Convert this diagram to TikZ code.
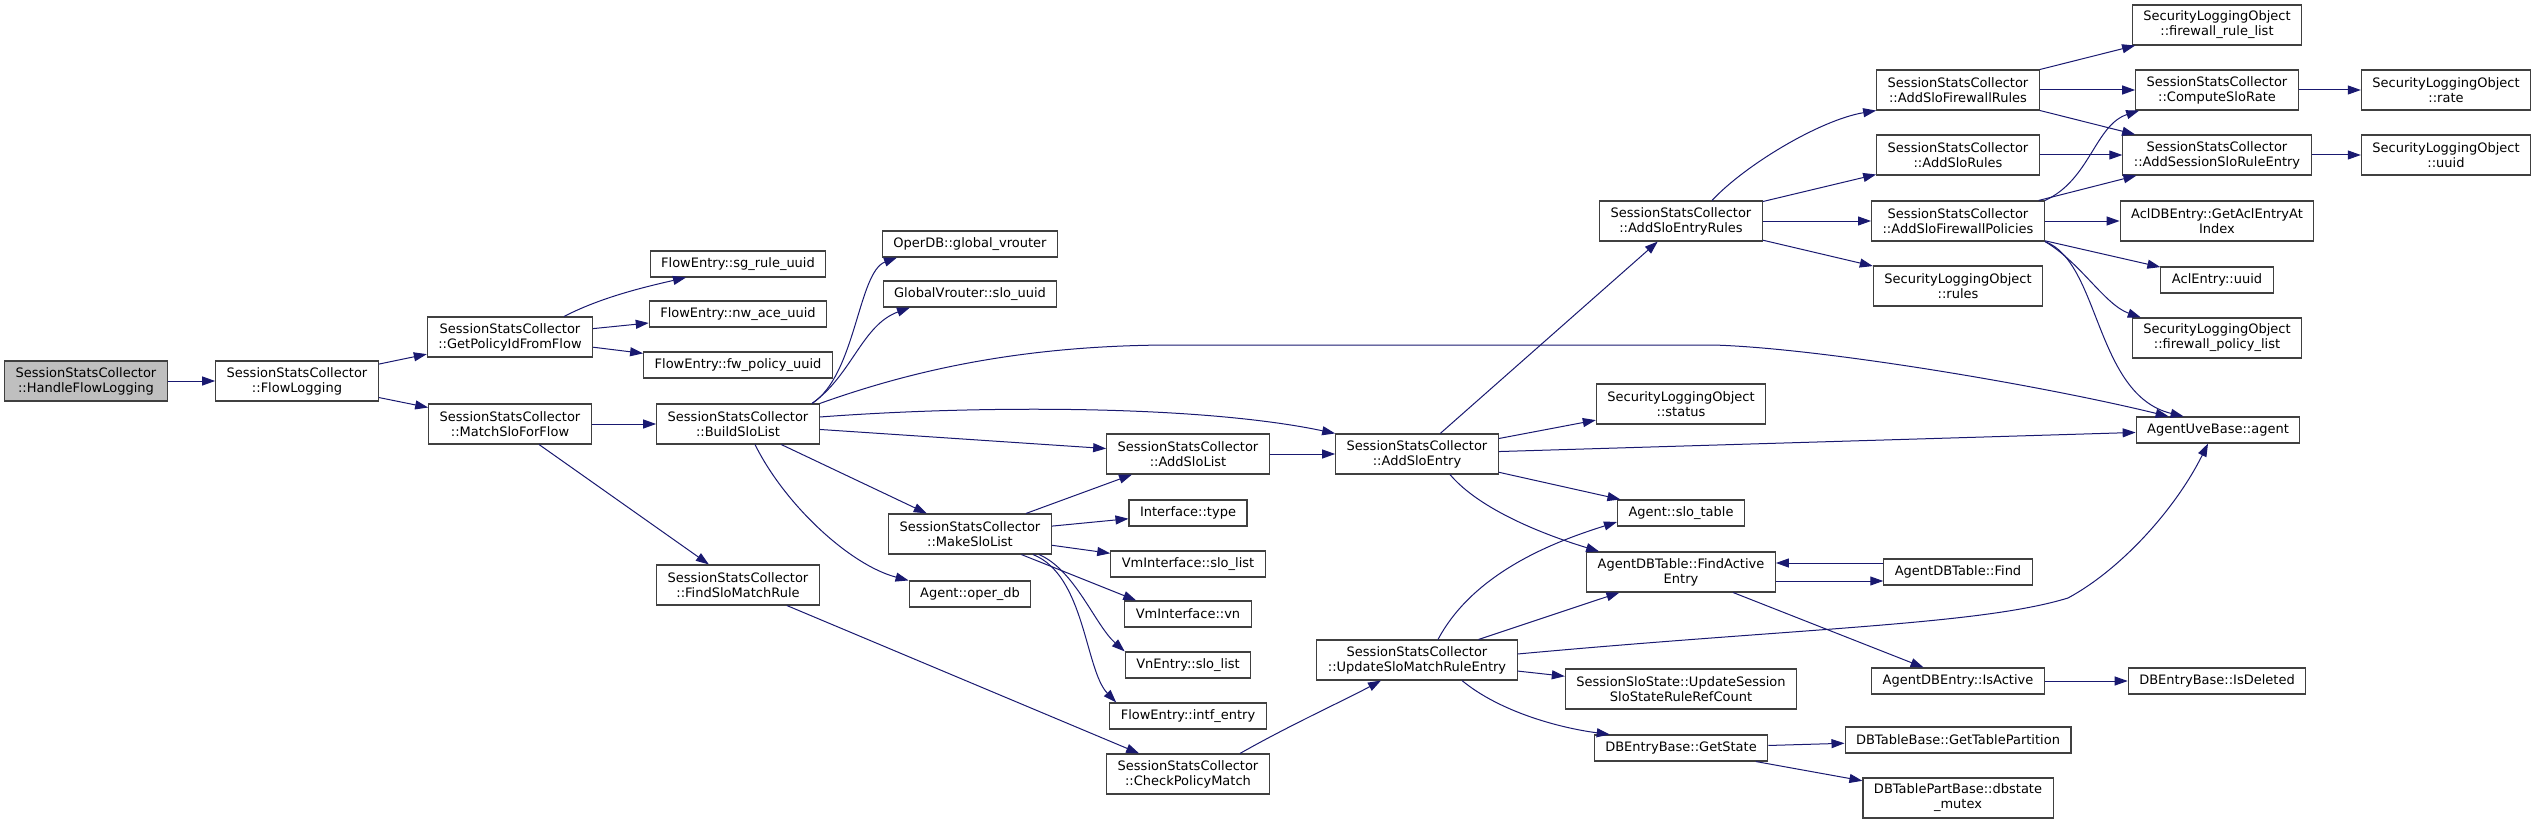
\documentclass[tikz,border=0pt]{standalone}
\usepackage{fontspec}
\setmainfont{DejaVu Sans}
\usepackage{xcolor}
\usetikzlibrary{arrows.meta}
\definecolor{midnightblue}{RGB}{25, 25, 112}
\definecolor{rootgray}{RGB}{191, 191, 191}
\definecolor{framegray}{RGB}{64, 64, 64}

\begin{document}
\begin{tikzpicture}[x=1pt, y=-1pt,
    fn/.style={draw=framegray, line width=1.1pt, fill=white, align=center,
        font=\fontsize{13}{15}\selectfont, inner xsep=11pt, inner ysep=5pt,
        minimum height=26pt},
    fnn/.style={fn, minimum height=40pt},
    callarrow/.style={midnightblue, line width=1pt,
        -{Triangle[length=13pt, width=9pt]}}]
    % Rahmen des Bildes (Pixel der Vorlage)
    \useasboundingbox (0,0) rectangle (2536,824);

    % Startfunktion und erste Ebenen
    \node[fnn, fill=rootgray] (hfl) at (86,381) {SessionStatsCollector\\::HandleFlowLogging};
    \node[fnn] (flog) at (297,381) {SessionStatsCollector\\::FlowLogging};
    \node[fnn] (getpol) at (510,337) {SessionStatsCollector\\::GetPolicyIdFromFlow};
    \node[fnn] (matchslo) at (510,424) {SessionStatsCollector\\::MatchSloForFlow};
    \node[fn] (sgrule) at (738,264) {FlowEntry::sg\_rule\_uuid};
    \node[fn] (nwace) at (738,314) {FlowEntry::nw\_ace\_uuid};
    \node[fn] (fwpol) at (738,365) {FlowEntry::fw\_policy\_uuid};
    \node[fnn] (build) at (738,424) {SessionStatsCollector\\::BuildSloList};
    \node[fnn] (findslo) at (738,585) {SessionStatsCollector\\::FindSloMatchRule};

    % Spalte um MakeSloList
    \node[fn] (operdb) at (970,244) {OperDB::global\_vrouter};
    \node[fn] (gvslo) at (970,294) {GlobalVrouter::slo\_uuid};
    \node[fnn] (makeslo) at (970,534) {SessionStatsCollector\\::MakeSloList};
    \node[fn] (agentoper) at (970,594) {Agent::oper\_db};
    \node[fnn] (addslolist) at (1188,454) {SessionStatsCollector\\::AddSloList};
    \node[fn] (iftype) at (1188,513) {Interface::type};
    \node[fn] (vmslo) at (1188,564) {VmInterface::slo\_list};
    \node[fn] (vmvn) at (1188,614) {VmInterface::vn};
    \node[fn] (vnslo) at (1188,665) {VnEntry::slo\_list};
    \node[fn] (intf) at (1188,716) {FlowEntry::intf\_entry};
    \node[fnn] (checkpol) at (1188,774) {SessionStatsCollector\\::CheckPolicyMatch};

    % Spalte um AddSloEntry
    \node[fnn] (addsloentry) at (1417,454) {SessionStatsCollector\\::AddSloEntry};
    \node[fnn] (updslo) at (1417,660) {SessionStatsCollector\\::UpdateSloMatchRuleEntry};
    \node[fnn] (entryrules) at (1681,221) {SessionStatsCollector\\::AddSloEntryRules};
    \node[fnn] (status) at (1681,404) {SecurityLoggingObject\\::status};
    \node[fn] (slotable) at (1681,513) {Agent::slo\_table};
    \node[fnn] (findactive) at (1681,572) {AgentDBTable::FindActive\\Entry};
    \node[fnn] (refcount) at (1681,689) {SessionSloState::UpdateSession\\SloStateRuleRefCount};
    \node[fn] (getstate) at (1681,748) {DBEntryBase::GetState};

    % Spalte um AddSloFirewallPolicies
    \node[fnn] (fwrules) at (1958,90) {SessionStatsCollector\\::AddSloFirewallRules};
    \node[fnn] (slorules) at (1958,155) {SessionStatsCollector\\::AddSloRules};
    \node[fnn] (fwpolicies) at (1958,221) {SessionStatsCollector\\::AddSloFirewallPolicies};
    \node[fnn] (logrules) at (1958,286) {SecurityLoggingObject\\::rules};
    \node[fn] (tfind) at (1958,572) {AgentDBTable::Find};
    \node[fn] (isactive) at (1958,681) {AgentDBEntry::IsActive};
    \node[fn] (tablepart) at (1958,740) {DBTableBase::GetTablePartition};
    \node[fnn] (dbmutex) at (1958,798) {DBTablePartBase::dbstate\\\_mutex};

    % Rechte Spalten
    \node[fnn] (fwrulelist) at (2217,25) {SecurityLoggingObject\\::firewall\_rule\_list};
    \node[fnn] (computerate) at (2217,90) {SessionStatsCollector\\::ComputeSloRate};
    \node[fnn] (sessrule) at (2217,155) {SessionStatsCollector\\::AddSessionSloRuleEntry};
    \node[fnn] (aclidx) at (2217,221) {AclDBEntry::GetAclEntryAt\\Index};
    \node[fn] (acluuid) at (2217,280) {AclEntry::uuid};
    \node[fnn] (fwpollist) at (2217,338) {SecurityLoggingObject\\::firewall\_policy\_list};
    \node[fn] (uveagent) at (2218,430) {AgentUveBase::agent};
    \node[fn] (isdeleted) at (2217,681) {DBEntryBase::IsDeleted};
    \node[fnn] (lograte) at (2446,90) {SecurityLoggingObject\\::rate};
    \node[fnn] (loguuid) at (2446,155) {SecurityLoggingObject\\::uuid};

    % Aufrufe der ersten Ebenen
    \draw[callarrow] (hfl) -- (flog);
    \draw[callarrow] (flog) -- (getpol);
    \draw[callarrow] (flog) -- (matchslo);
    \draw[callarrow] ([xshift=54pt]getpol.north) .. controls (600,298) and (640,288) .. ([xshift=-52pt]sgrule.south);
    \draw[callarrow] (getpol) -- (nwace);
    \draw[callarrow] (getpol) -- (fwpol);
    \draw[callarrow] (matchslo) -- (build);
    \draw[callarrow] (matchslo) -- (findslo);

    % Aufrufe aus BuildSloList
    \draw[callarrow] ([xshift=74pt]build.north) .. controls (856,375) and (858,272) .. ([xshift=-73pt]operdb.south);
    \draw[callarrow] ([xshift=74pt]build.north) .. controls (852,375) and (862,325) .. ([xshift=-60pt]gvslo.south);
    \draw[callarrow] (build.north east) .. controls (900,375) and (1010,345) .. (1174,345) -- (1713,345)
        .. controls (1820,348) and (2040,385) .. ([xshift=33pt]uveagent.north west);
    \draw[callarrow] ([yshift=7pt]build.east) .. controls (980,405) and (1200,405) .. (addsloentry.north west);
    \draw[callarrow] (build) -- (addslolist);
    \draw[callarrow] (build) -- (makeslo);
    \draw[callarrow] ([xshift=17pt]build.south) .. controls (785,505) and (850,565) .. (agentoper.north west);
    \draw[callarrow] (findslo) -- (checkpol);

    % Aufrufe aus MakeSloList und CheckPolicyMatch
    \draw[callarrow] (makeslo) -- (addslolist);
    \draw[callarrow] (makeslo) -- (iftype);
    \draw[callarrow] (makeslo) -- (vmslo);
    \draw[callarrow] (makeslo) -- ([xshift=12pt]vmvn.north west);
    \draw[callarrow] ([xshift=69pt]makeslo.south) .. controls (1075,570) and (1095,625) .. (vnslo.north west);
    \draw[callarrow] ([xshift=63pt]makeslo.south) .. controls (1085,575) and (1085,670) .. ([xshift=7pt]intf.north west);
    \draw[callarrow] (addslolist) -- (addsloentry);
    \draw[callarrow] ([xshift=52pt]checkpol.north) .. controls (1290,725) and (1345,700) .. ([xshift=-36pt]updslo.south);

    % Aufrufe aus AddSloEntry
    \draw[callarrow] (addsloentry) -- (entryrules);
    \draw[callarrow] (addsloentry) -- (status);
    \draw[callarrow] (addsloentry) -- (uveagent);
    \draw[callarrow] (addsloentry) -- (slotable);
    \draw[callarrow] ([xshift=33pt]addsloentry.south) .. controls (1480,510) and (1545,535) .. ([xshift=13pt]findactive.north west);

    % Aufrufe aus UpdateSloMatchRuleEntry
    \draw[callarrow] ([xshift=21pt]updslo.north) .. controls (1475,570) and (1560,540) .. ([yshift=-9pt]slotable.west);
    \draw[callarrow] (updslo) -- (findactive);
    \draw[callarrow] ([yshift=6pt]updslo.east) .. controls (1800,628) and (1980,625) .. (2068,598)
        .. controls (2120,570) and (2175,510) .. ([xshift=-10pt]uveagent.south);
    \draw[callarrow] (updslo) -- (refcount);
    \draw[callarrow] ([xshift=45pt]updslo.south) .. controls (1500,712) and (1560,728) .. ([xshift=16pt]getstate.north west);

    % FindActiveEntry, Find und GetState
    \draw[callarrow] ([yshift=-9pt]findactive.east) -- ([yshift=-9pt]tfind.west);
    \draw[callarrow] ([yshift=9pt]tfind.west) -- ([yshift=9pt]findactive.east);
    \draw[callarrow] (findactive) -- (isactive);
    \draw[callarrow] (isactive) -- (isdeleted);
    \draw[callarrow] (getstate) -- (tablepart);
    \draw[callarrow] (getstate) -- (dbmutex);

    % Aufrufe aus AddSloEntryRules
    \draw[callarrow] ([xshift=31pt]entryrules.north) .. controls (1745,165) and (1820,120) .. (fwrules.south west);
    \draw[callarrow] (entryrules) -- (slorules);
    \draw[callarrow] (entryrules) -- (fwpolicies);
    \draw[callarrow] (entryrules) -- (logrules);
    \draw[callarrow] (fwrules) -- (fwrulelist);
    \draw[callarrow] (fwrules) -- (computerate);
    \draw[callarrow] (fwrules) -- (sessrule);
    \draw[callarrow] (slorules) -- (sessrule);
    \draw[callarrow] (computerate) -- (lograte);
    \draw[callarrow] (sessrule) -- (loguuid);

    % Aufrufe aus AddSloFirewallPolicies
    \draw[callarrow] (fwpolicies.north east) .. controls (2090,180) and (2095,125) .. ([xshift=4pt]computerate.south west);
    \draw[callarrow] (fwpolicies) -- (sessrule);
    \draw[callarrow] (fwpolicies) -- (aclidx);
    \draw[callarrow] (fwpolicies) -- (acluuid);
    \draw[callarrow] (fwpolicies.south east) .. controls (2080,262) and (2105,305) .. ([xshift=9pt]fwpollist.north west);
    \draw[callarrow] (fwpolicies.south east) .. controls (2100,262) and (2095,395) .. ([xshift=48pt]uveagent.north west);

\end{tikzpicture}
\end{document}
